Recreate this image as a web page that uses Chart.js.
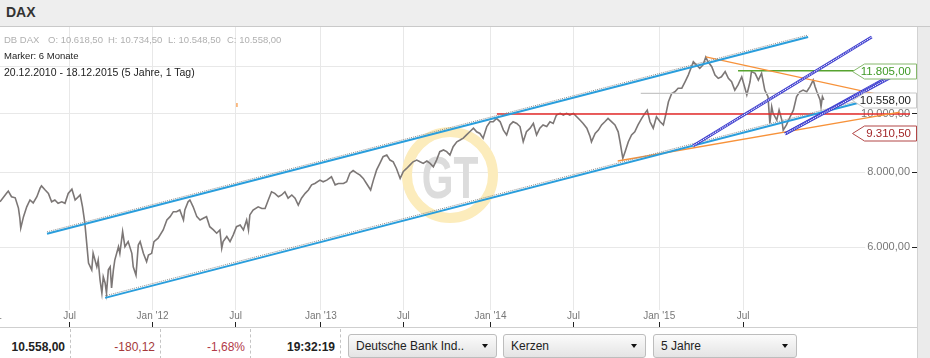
<!DOCTYPE html>
<html><head><meta charset="utf-8">
<script src="https://cdn.jsdelivr.net/npm/chart.js@4.4.1/dist/chart.umd.min.js"></script>
<style>
html,body{margin:0;padding:0;width:930px;height:358px;overflow:hidden;background:#fff;font-family:"Liberation Sans",Arial,sans-serif;}
#hdr{position:absolute;left:0;top:0;width:930px;height:26px;background:#eeeeee;border-bottom:1px solid #c9c9c9;}
#hdr span{position:absolute;left:6px;top:4px;font-weight:bold;font-size:14px;color:#333;}
#wrap{position:absolute;left:0;top:27px;width:917px;height:300px;}
#strip{position:absolute;left:917px;top:27px;width:13px;height:331px;background:#ebebeb;border-left:1px solid #d2d2d2;box-sizing:border-box;}
.info{position:absolute;font-size:9.5px;line-height:12px;white-space:nowrap;z-index:5;}
.g{color:#b0b0b0;top:34px;}
#bar{position:absolute;left:0;top:327px;width:917px;height:31px;border-top:1px solid #cfcfcf;box-sizing:border-box;}
.cell{position:absolute;top:1px;height:30px;border-right:1px dashed #c4c4c4;box-sizing:border-box;text-align:right;padding-right:5px;font-size:12px;line-height:30px;padding-top:3px;}
.btn{position:absolute;top:6px;height:24px;box-sizing:border-box;border:1px solid #bdbdbd;border-radius:3px;background:linear-gradient(#fbfbfb,#e4e4e4);font-size:12px;line-height:22px;padding-left:7px;color:#222;}
.btn i{position:absolute;right:8px;top:9px;width:0;height:0;border-left:3px solid transparent;border-right:3px solid transparent;border-top:4px solid #111;}
</style></head>
<body>
<div id="hdr"><span>DAX</span></div>
<div id="wrap"><canvas id="c" width="917" height="300"></canvas></div>
<div class="info g" style="left:4px">DB DAX</div>
<div class="info g" style="left:48px">O: 10.618,50</div>
<div class="info g" style="left:108px">H: 10.734,50</div>
<div class="info g" style="left:168px">L: 10.548,50</div>
<div class="info g" style="left:227px">C: 10.558,00</div>
<div class="info" style="left:4px;top:50px;color:#222">Marker: 6 Monate</div>
<div class="info" style="left:4px;top:66px;color:#222;font-size:10.5px">20.12.2010 - 18.12.2015 (5 Jahre, 1 Tag)</div>
<div id="strip"></div>
<div id="bar">
  <div class="cell" style="left:0;width:71px;font-weight:bold;color:#222">10.558,00</div>
  <div class="cell" style="left:71px;width:90px;color:#a5383a">-180,12</div>
  <div class="cell" style="left:161px;width:90px;color:#b23a48">-1,68%</div>
  <div class="cell" style="left:251px;width:90px;font-weight:bold;color:#222">19:32:19</div>
  <div class="btn" style="left:348px;width:149px">Deutsche Bank Ind..<i></i></div>
  <div class="btn" style="left:503px;width:143px">Kerzen<i></i></div>
  <div class="btn" style="left:653px;width:144px">5 Jahre<i></i></div>
</div>
<script>
// ---- data (x = days since 2011-01-01, y = index points) ----
const tickDays   = [0, 181, 361, 541, 726, 905, 1094, 1274, 1460, 1642];
const tickLabels = ["Jan '11", "Jul", "Jan '12", "Jul", "Jan '13", "Jul", "Jan '14", "Jul", "Jan '15", "Jul"];
const yTickValues = [6000, 8000, 10000, 12000];
const yTickLabelShown = [true, true, true, false];

const priceDays = [30,45,48,55,63,70,73,75,81,88,95,102,110,117,120,128,135,142,149,156,164,171,178,186,193,204,209,214,218,222,229,232,240,243,247,251,254,258,261,265,269,272,276,279,287,290,296,301,308,316,319,325,330,334,341,348,352,359,364,373,384,392,399,406,413,420,428,431,438,442,449,457,464,471,478,485,493,500,507,511,514,522,529,536,543,551,558,565,569,572,579,590,598,605,612,619,626,634,641,648,655,663,670,677,684,692,699,706,713,724,731,739,749,757,764,775,782,789,796,804,811,818,825,834,840,847,854,861,869,876,883,890,898,905,912,919,926,934,941,948,956,963,970,977,984,992,999,1006,1013,1021,1028,1035,1042,1049,1057,1064,1071,1078,1086,1093,1100,1107,1115,1122,1129,1136,1143,1151,1158,1165,1172,1180,1187,1194,1201,1208,1216,1223,1230,1237,1245,1252,1259,1266,1274,1281,1288,1295,1303,1310,1313,1321,1328,1335,1342,1349,1357,1364,1371,1375,1381,1386,1393,1400,1407,1414,1422,1429,1434,1440,1447,1454,1462,1469,1474,1480,1487,1494,1501,1509,1516,1523,1530,1534,1541,1548,1555,1561,1566,1574,1581,1588,1595,1603,1610,1617,1624,1631,1639,1646,1650,1657,1660,1668,1675,1682,1689,1696,1700,1704,1707,1715,1720,1726,1729,1736,1744,1751,1758,1765,1772,1780,1787,1794,1798,1802,1809,1811,1814,1817];
const priceValues = [7140,7390,7440,7280,7250,6970,6710,6455,6745,7005,7190,7110,7280,7525,7590,7470,7375,7140,7190,7100,7140,7100,7375,7495,7190,7330,7005,6585,6100,5645,5500,5865,5565,5710,5290,5030,5355,5230,5030,5500,5565,5130,5500,5710,6010,5860,6370,6010,6130,5860,5565,5390,6050,6130,5860,5675,5820,5860,6130,6210,6410,6660,6745,6875,6875,6920,6660,6920,7140,7190,7005,6745,6660,6705,6745,6490,6410,6330,6410,5975,6130,6250,6130,6290,6490,6530,6410,6660,6410,6790,6920,7005,6960,6960,7190,7420,7375,7280,7330,7420,7240,7330,7240,7050,7240,7375,7470,7620,7660,7760,7710,7760,7860,7620,7660,7660,7710,7970,8050,7970,7910,7810,7660,7470,7760,8070,8275,8490,8545,8380,8325,8115,7810,8020,8115,8220,8325,8380,8325,8275,8350,8275,8165,8380,8655,8710,8655,8545,8820,8990,9050,9115,9230,9340,9470,9340,9280,9115,9530,9705,9705,9835,9705,9400,9230,9590,9705,9645,9530,8990,9340,9470,9645,9230,9470,9590,9530,9705,9645,9960,10025,9960,10025,9960,10025,9895,9770,9645,9470,9170,8990,9280,9400,9590,9705,9835,9705,9590,9340,8990,8435,8655,8990,9230,9340,9590,9835,10025,10150,9705,9470,9895,9705,9590,9960,10480,10820,10890,11040,11040,11315,11610,11990,12220,12070,11915,12070,12445,12220,11990,11610,11465,11535,11765,11465,11315,10960,11180,11535,11040,10760,11315,11765,11690,11390,11690,10960,10690,9645,10285,10025,9770,10150,9770,9400,9590,9895,10150,10690,10890,10960,10890,11110,11390,11110,10890,10550,10285,10690,10558];

// drawn trend lines / levels (start & end points)
const upperChannelDays = [132, 1783], upperChannelValues = [6315, 13435];
const lowerChannelDays = [258, 1895], lowerChannelValues = [4940, 10450];
const resistanceDays = [1108, 2004], resistanceValues = [10000, 10000];
const levelDays = [1420, 2004], levelValues = [10820, 10820];
const targetDays = [1631, 1884], targetValues = [11805, 11805];
const orangeDownDays = [1561, 2021], orangeDownValues = [12445, 10430];
const orangeUpDays = [1370, 1982], orangeUpValues = [8350, 10075];
const purple1Days = [1533, 1921], purple1Values = [8845, 13435];
const purple2Days = [1733, 1978], purple2Values = [9265, 11770];
const purple3Days = [1733, 1967], purple3Values = [9265, 11565];
const markDays = [544, 544], markValues = [10430, 10270];

// price marker labels on the right
const markerValues = [11805, 10558, 9310.5];
const markerTextColors = ['#3f9a26', '#222222', '#a3282a'];
const markerBorderColors = ['#86b86c', '#c8c8c8', '#b24646'];

function fmtDE(v) {
  let [i, f] = v.toFixed(2).split('.');
  i = i.replace(/\B(?=(\d{3})+(?!\d))/g, '.');
  return i + ',' + f;
}
function seg(days, vals, color, width, order, extra) {
  return Object.assign({
    data: days.map((d, i) => ({x: d, y: vals[i]})),
    borderColor: color, borderWidth: width, pointRadius: 0, fill: false,
    tension: 0, order: order
  }, extra || {});
}

const shiftPlugin = {
  id: 'shift',
  beforeDatasetDraw(chart, args) {
    const ds = chart.data.datasets[args.index];
    if (ds.shiftY) { chart.ctx.save(); chart.ctx.translate(0, ds.shiftY); }
  },
  afterDatasetDraw(chart, args) {
    const ds = chart.data.datasets[args.index];
    if (ds.shiftY) chart.ctx.restore();
  }
};

const watermark = {
  id: 'watermark',
  beforeDatasetsDraw(chart) {
    const c = chart.ctx;
    c.save();
    c.beginPath();
    c.arc(450, 148, 43, 0, Math.PI * 2);
    c.strokeStyle = '#fcecbc';
    c.lineWidth = 10;
    c.stroke();
    c.translate(450, 171);
    c.scale(0.68, 1);
    c.fillStyle = '#dcdcdc';
    c.font = 'bold 60px "Liberation Sans", Arial, sans-serif';
    c.textAlign = 'center';
    c.textBaseline = 'alphabetic';
    c.fillText('GT', 0, 0);
    c.restore();
  }
};

const markers = {
  id: 'markers',
  afterDraw(chart) {
    const c = chart.ctx, ys = chart.scales.y;
    c.save();
    markerValues.forEach((v, k) => {
      const y = Math.round(ys.getPixelForValue(v)) + 0.5;
      c.beginPath();
      c.moveTo(852.5, y);
      c.lineTo(864.5, y - 7.5);
      c.lineTo(916.5, y - 7.5);
      c.lineTo(916.5, y + 7.5);
      c.lineTo(864.5, y + 7.5);
      c.closePath();
      c.fillStyle = '#ffffff';
      c.fill();
      c.strokeStyle = markerBorderColors[k];
      c.lineWidth = 1;
      c.stroke();
      c.fillStyle = markerTextColors[k];
      c.font = '11.5px "Liberation Sans", Arial, sans-serif';
      c.textAlign = 'right';
      c.textBaseline = 'middle';
      c.fillText(fmtDE(v), 911, y);
    });
    c.restore();
  }
};

Chart.defaults.font.family = '"Liberation Sans", Arial, sans-serif';
const zeroPad = s => { s.paddingLeft = 0; s.paddingRight = 0; s.paddingTop = 0; s.paddingBottom = 0; };

new Chart(document.getElementById('c'), {
  type: 'line',
  data: {
    datasets: [
      seg(priceDays, priceValues, '#7c7776', 1.6, 30),
      seg(levelDays, levelValues, '#c6c6c6', 1.3, 29),
      seg(resistanceDays, resistanceValues, '#e52a2a', 1.4, 28),
      seg(targetDays, targetValues, '#57a32f', 1.3, 27),
      seg(orangeDownDays, orangeDownValues, '#f7923a', 1.3, 26),
      seg(orangeUpDays, orangeUpValues, '#f7923a', 1.3, 25),
      seg(upperChannelDays, upperChannelValues, '#8c8c8c', 1, 24, {borderDash: [1, 1], shiftY: -2}),
      seg(upperChannelDays, upperChannelValues, '#2a9edc', 2, 23),
      seg(lowerChannelDays, lowerChannelValues, '#8c8c8c', 1, 22, {borderDash: [1, 1], shiftY: -2}),
      seg(lowerChannelDays, lowerChannelValues, '#2a9edc', 2, 21),
      seg(purple1Days, purple1Values, '#4040d0', 3, 20),
      seg(purple1Days, purple1Values, '#ffffff', 1.1, 19, {borderDash: [1, 1]}),
      seg(purple2Days, purple2Values, '#4040d0', 3, 18),
      seg(purple2Days, purple2Values, '#ffffff', 1.1, 17, {borderDash: [1, 1]}),
      seg(purple3Days, purple3Values, '#4040d0', 3, 16),
      seg(purple3Days, purple3Values, '#ffffff', 1.1, 15, {borderDash: [1, 1]}),
      seg(markDays, markValues, '#f7923a', 1.2, 14)
    ]
  },
  options: {
    responsive: false, animation: false, devicePixelRatio: 1,
    layout: {padding: 0, autoPadding: false},
    plugins: {legend: {display: false}, tooltip: {enabled: false}},
    scales: {
      x: {
        type: 'linear', position: 'bottom', min: 30, max: 2004,
        grid: {color: '#e8e8e8', tickColor: '#222', tickLength: 5},
        border: {display: false},
        ticks: {
          mirror: true, padding: 0, autoSkip: false, maxRotation: 0, minRotation: 0,
          color: '#777', font: {size: 10},
          showLabelBackdrop: true, backdropColor: '#ffffff', backdropPadding: {x: 1, y: 0},
          callback: (v, i) => tickLabels[i]
        },
        afterBuildTicks: s => { s.ticks = tickDays.map(v => ({value: v})); },
        afterFit: zeroPad
      },
      y: {
        type: 'logarithmic', position: 'right', min: 4503, max: 13961,
        grid: {color: '#e8e8e8', tickColor: '#222', tickLength: 7},
        border: {display: false},
        ticks: {
          mirror: true, padding: 0, color: '#777', font: {size: 11},
          showLabelBackdrop: true, backdropColor: '#ffffff', backdropPadding: {x: 2, y: 1},
          callback: (v, i) => yTickLabelShown[i] ? fmtDE(v) : ''
        },
        afterBuildTicks: s => { s.ticks = yTickValues.map(v => ({value: v})); },
        afterFit: zeroPad
      }
    }
  },
  plugins: [shiftPlugin, watermark, markers]
});
</script>
</body></html>
